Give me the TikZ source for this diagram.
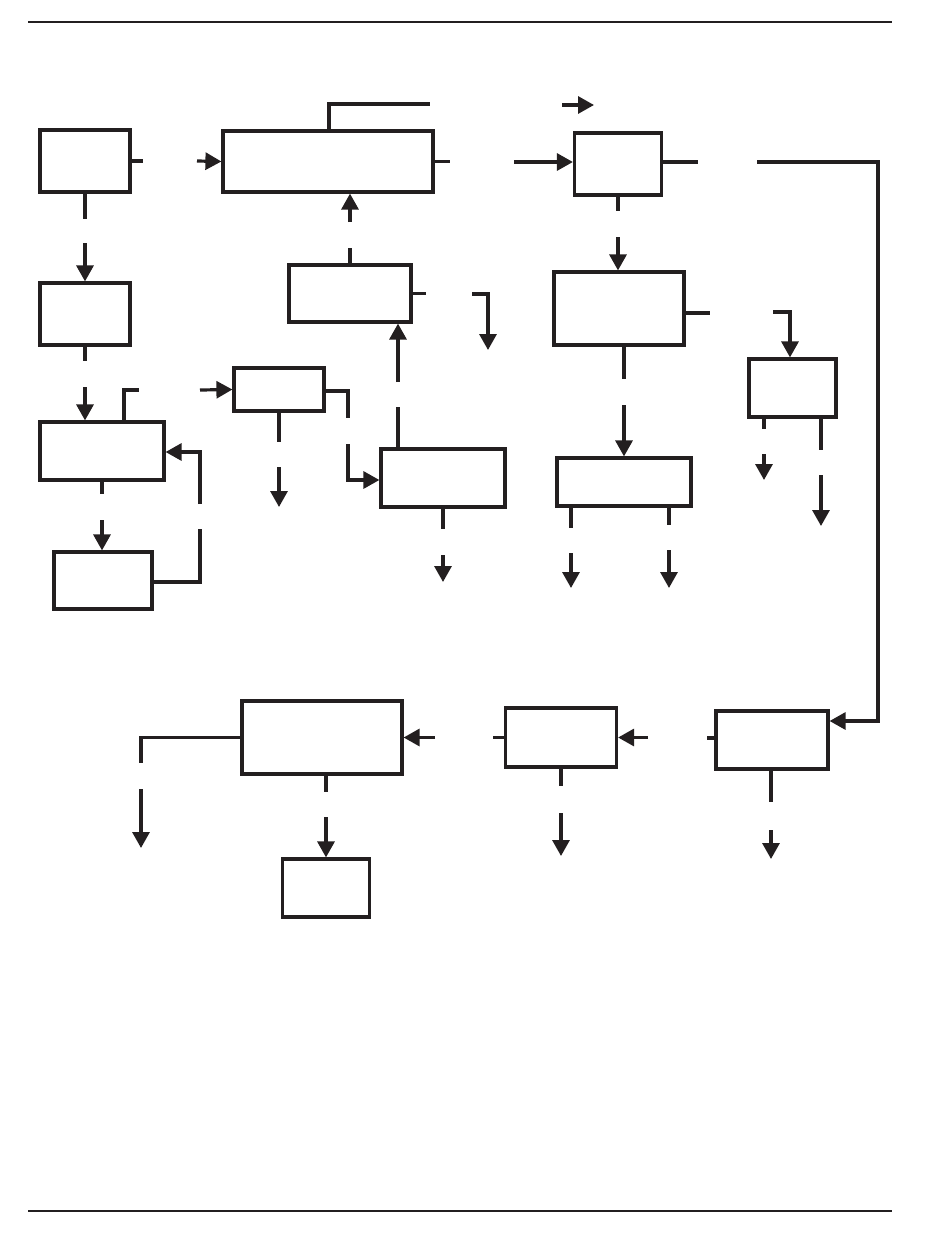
\documentclass[tikz,border=0pt]{standalone}
\usetikzlibrary{arrows.meta}
\definecolor{ink}{HTML}{231F20}
\begin{document}
\begin{tikzpicture}[x=1pt,y=-1pt,
  box/.style={draw=ink,line width=3.2pt,inner sep=0pt,fill=white},
  ln/.style={draw=ink,line width=3.2pt},
  arr/.style={ln,-{Triangle[length=16pt,width=17pt]}},
  rulel/.style={draw=ink,line width=2pt}]
\useasboundingbox (0,0) rectangle (950,1248);
\draw[rulel] (28,22) -- (892,22);
\draw[rulel] (28,1211) -- (892,1211);
% boxes
\node[box,minimum width=90pt,minimum height=62pt] (b1) at (85,161) {};
\node[box,minimum width=210pt,minimum height=61pt] (b2) at (328,161.5) {};
\node[box,minimum width=87pt,minimum height=62pt] (b3) at (618,164) {};
\node[box,minimum width=90pt,minimum height=62pt] (b4) at (85,314) {};
\node[box,minimum width=122pt,minimum height=57pt] (b5) at (350,293.5) {};
\node[box,minimum width=130pt,minimum height=73pt] (b6) at (619,308.5) {};
\node[box,minimum width=87pt,minimum height=58pt] (b7) at (792.5,388) {};
\node[box,minimum width=124pt,minimum height=58pt] (b8) at (102,451) {};
\node[box,minimum width=90pt,minimum height=43pt] (b9) at (279,389.5) {};
\node[box,minimum width=124pt,minimum height=58pt] (b10) at (443,478) {};
\node[box,minimum width=134pt,minimum height=48pt] (b11) at (624,482) {};
\node[box,minimum width=98pt,minimum height=57pt] (b12) at (103,580.5) {};
\node[box,minimum width=160pt,minimum height=73pt] (b13) at (322,737.5) {};
\node[box,minimum width=111pt,minimum height=59pt] (b14) at (561,737.5) {};
\node[box,minimum width=112pt,minimum height=58pt] (b15) at (772,740) {};
\node[box,minimum width=87pt,minimum height=58pt] (b16) at (326,888) {};
% top row
\draw[ln] (b1.east) -- ++(11,0);
\draw[arr] (197,161) -- (b2.west);
\draw[ln] ([xshift=1pt]b2.north) -- (329,104) -- (430,104);
\draw[arr] (562,105) -- (594,105);
\draw[ln] (b2.east) -- ++(15,0);
\draw[arr] (514,162) -- ([yshift=2pt]b3.west);
\draw[ln] ([yshift=2pt]b3.east) -- ++(35,0);
\draw[arr] (757,162) -- (878,162) -- (878,721) -- ([yshift=19pt]b15.east);
% left column
\draw[ln] (b1.south) -- ++(0,25);
\draw[arr] (85,243) -- (b4.north);
\draw[ln] (b4.south) -- (85,361);
\draw[arr] (85,387) -- (b8.north -| b4.south);
\draw[ln] ([xshift=22pt]b8.north) -- (124,390) -- (139,390);
\draw[arr] (200,390) -- (b9.west);
\draw[ln] ([yshift=-1.5pt]b9.east) -- (348,391) -- (348,418);
\draw[arr] (348,444) -- (348,480) -- ([yshift=-2pt]b10.west);
\draw[ln] (b9.south) -- (279,442);
\draw[arr] (279,467) -- (279,507);
\draw[ln] (b8.south) -- (102,494);
\draw[arr] (102,520) -- (b12.north -| b8.south);
\draw[ln] ([yshift=-1.5pt]b12.east) -- (200,582) -- (200,529);
\draw[arr] (200,504) -- (200,452) -- ([yshift=-1pt]b8.east);
% middle
\draw[ln] (b5.north) -- (350,248);
\draw[arr] (350,222) -- (b2.south -| b5.north);
\draw[ln] (b5.east) -- ++(13,0);
\draw[arr] (472,294) -- (488,294) -- (488,350);
\draw[ln] ([xshift=-45pt]b10.north) -- (398,407);
\draw[arr] (398,382) -- ([xshift=48pt]b5.south);
\draw[ln] (b10.south) -- (443,529);
\draw[arr] (443,555) -- (443,582);
% right
\draw[ln] (b3.south) -- (618,211);
\draw[arr] (618,237) -- (b6.north -| b3.south);
\draw[ln] ([yshift=-4.5pt]b6.east) -- (710,313);
\draw[arr] (773,312) -- (790,312) -- ([xshift=-2.5pt]b7.north);
\draw[ln] ([xshift=5pt]b6.south) -- (624,379);
\draw[arr] (624,405) -- (b11.north);
\draw[ln] ([xshift=-53pt]b11.south) -- (571,528);
\draw[arr] (571,553) -- (571,588);
\draw[ln] ([xshift=45pt]b11.south) -- (669,525);
\draw[arr] (669,550) -- (669,588);
\draw[ln] ([xshift=-28.5pt]b7.south) -- (764,429);
\draw[arr] (764,454) -- (764,480);
\draw[ln] ([xshift=28.5pt]b7.south) -- (821,450);
\draw[arr] (821,475) -- (821,526);
% bottom row
\draw[ln] (b13.west) -- (141,737.5) -- (141,763);
\draw[arr] (141,789) -- (141,848);
\draw[ln] ([xshift=4pt]b13.south) -- (326,792);
\draw[arr] (326,817) -- (b16.north);
\draw[arr] (435,737.5) -- (b13.east);
\draw[ln] (b14.west) -- ++(-11,0);
\draw[arr] (648,737.5) -- (b14.east);
\draw[ln] ([yshift=2pt]b15.west) -- (707,738);
\draw[ln] (b14.south) -- (561,786);
\draw[arr] (561,813) -- (561,856);
\draw[ln] ([xshift=-1pt]b15.south) -- (771,802);
\draw[arr] (771,830) -- (771,859);
\end{tikzpicture}
\end{document}
